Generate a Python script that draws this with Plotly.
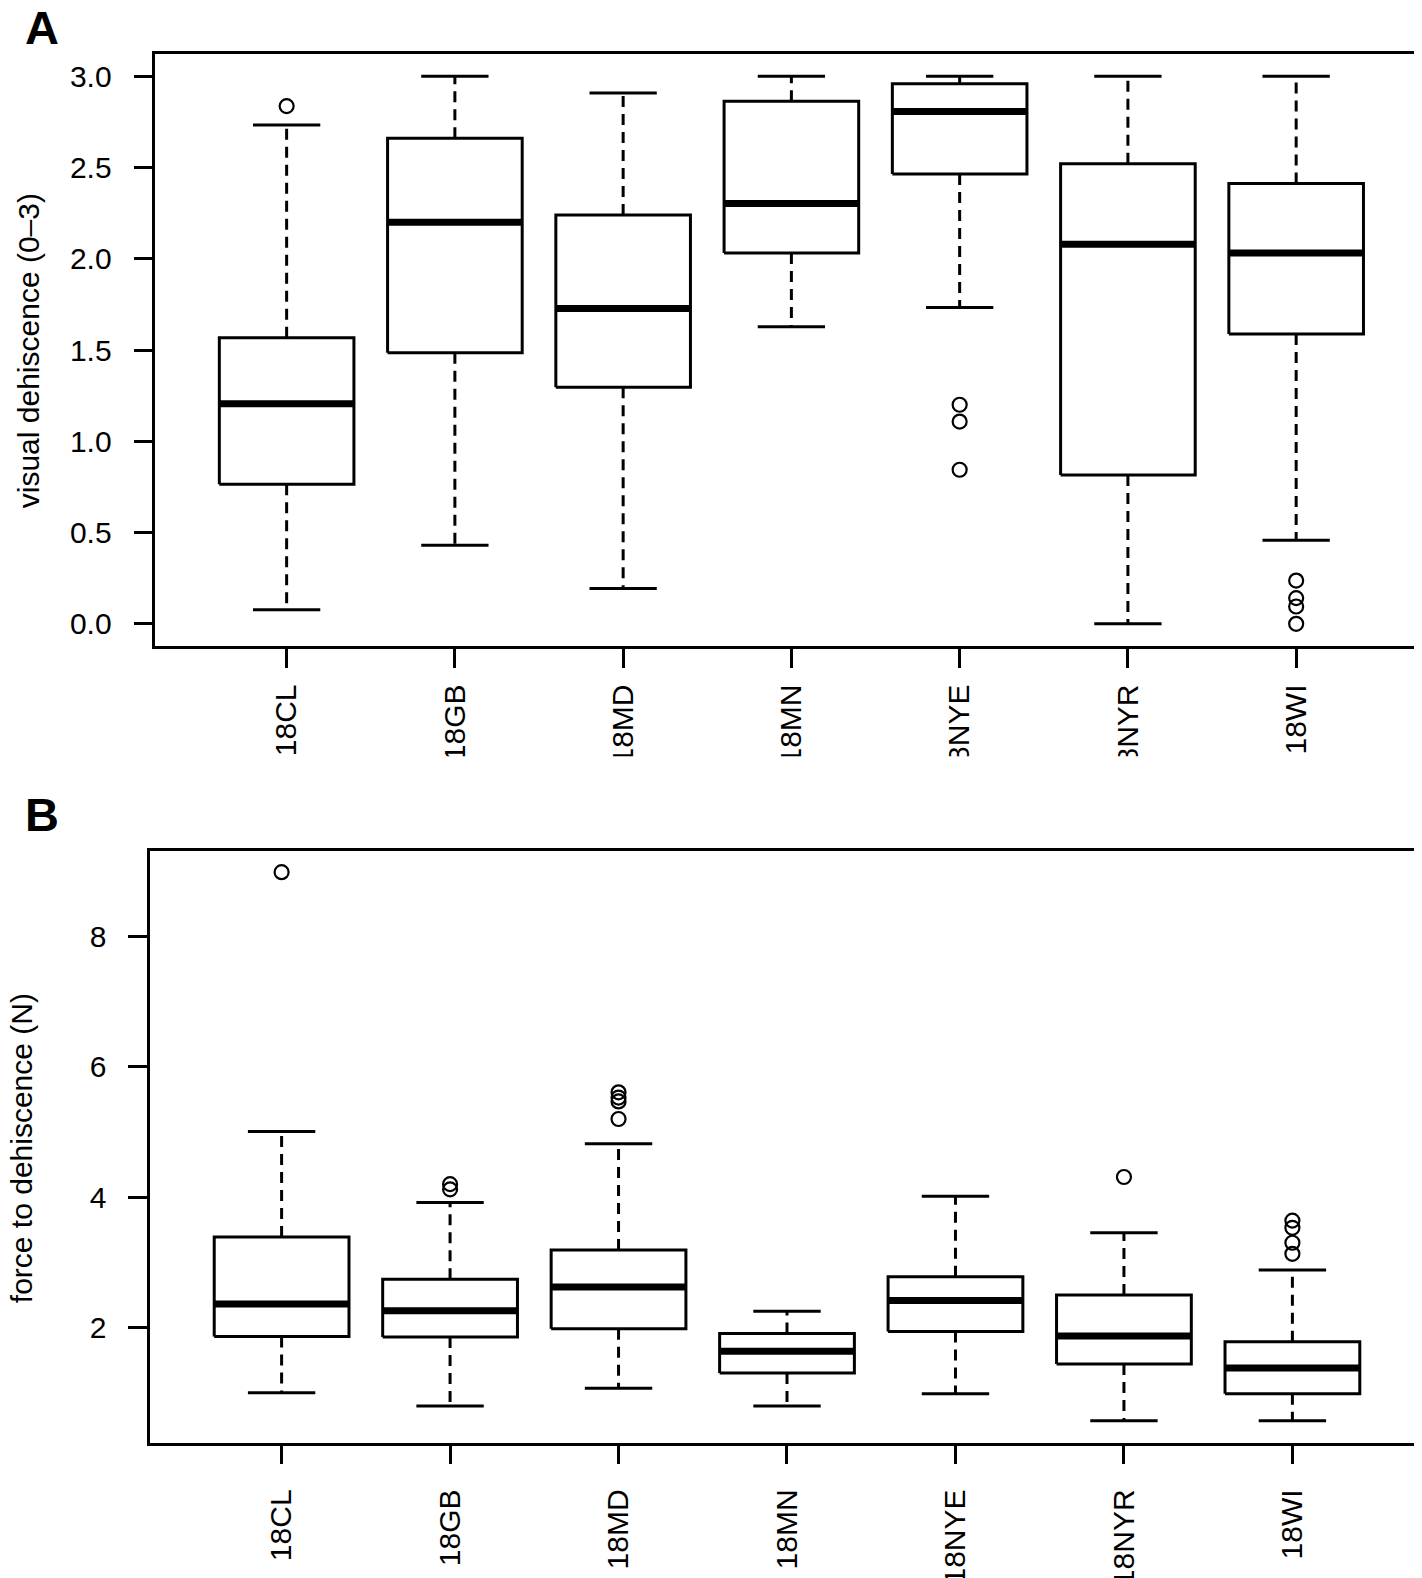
import plotly.graph_objects as go

groups = ["18CL", "18GB", "18MD", "18MN", "18NYE", "18NYR", "18WI"]

# panel A: visual dehiscence (0-3)
a_low = [0.077, 0.43, 0.193, 1.628, 1.733, 0.0, 0.458]
a_q1 = [0.765, 1.485, 1.296, 2.032, 2.464, 0.815, 1.588]
a_med = [1.206, 2.20, 1.728, 2.303, 2.807, 2.079, 2.032]
a_q3 = [1.567, 2.66, 2.24, 2.863, 2.958, 2.52, 2.412]
a_high = [2.733, 3.0, 2.908, 3.0, 3.0, 3.0, 3.0]
a_out = [[2.836], [], [], [], [1.20, 1.108, 0.844], [], [0.237, 0.141, 0.095, 0.0]]

# panel B: force to dehiscence (N)
b_low = [0.996, 0.794, 1.066, 0.794, 0.98, 0.568, 0.568]
b_q1 = [1.86, 1.852, 1.98, 1.30, 1.938, 1.44, 0.98]
b_med = [2.358, 2.257, 2.62, 1.634, 2.412, 1.868, 1.377]
b_q3 = [3.39, 2.74, 3.19, 1.907, 2.778, 2.498, 1.78]
b_high = [5.01, 3.92, 4.82, 2.25, 4.016, 3.455, 2.88]
b_out = [[8.99], [4.20, 4.12], [5.61, 5.53, 5.47, 5.20], [], [], [4.31], [3.64, 3.53, 3.30, 3.13]]

W, H = 1422, 1578
FONT = "Liberation Sans, Arial, Helvetica, sans-serif"
half_box = 0.4
half_cap = 0.2

fig = go.Figure()


def add_panel(low, q1, med, q3, high, outs, xa, ya):
    pos = list(range(1, len(groups) + 1))
    wx, wy, bx, by, cx, cy, mx, my, ox, oy = [], [], [], [], [], [], [], [], [], []
    for i, p in enumerate(pos):
        wx += [p, p, None, p, p, None]
        wy += [q3[i], high[i], None, q1[i], low[i], None]
        bx += [p - half_box, p + half_box, p + half_box, p - half_box, p - half_box, None]
        by += [q1[i], q1[i], q3[i], q3[i], q1[i], None]
        cx += [p - half_cap, p + half_cap, None, p - half_cap, p + half_cap, None]
        cy += [high[i], high[i], None, low[i], low[i], None]
        mx += [p - half_box, p + half_box, None]
        my += [med[i], med[i], None]
        for v in outs[i]:
            ox.append(p)
            oy.append(v)
    common = dict(xaxis=xa, yaxis=ya, showlegend=False, hoverinfo="skip")
    fig.add_trace(go.Scatter(x=wx, y=wy, mode="lines",
                             line=dict(color="black", width=3, dash="11px,7px"), **common))
    fig.add_trace(go.Scatter(x=bx, y=by, mode="lines",
                             line=dict(color="black", width=3), **common))
    fig.add_trace(go.Scatter(x=cx, y=cy, mode="lines",
                             line=dict(color="black", width=3), **common))
    fig.add_trace(go.Scatter(x=mx, y=my, mode="lines",
                             line=dict(color="black", width=7), **common))
    fig.add_trace(go.Scatter(x=ox, y=oy, mode="markers",
                             marker=dict(symbol="circle-open", size=14, color="black",
                                         line=dict(width=2.2)), **common))


add_panel(a_low, a_q1, a_med, a_q3, a_high, a_out, "x", "y")
add_panel(b_low, b_q1, b_med, b_q3, b_high, b_out, "x2", "y2")

ax_style = dict(showline=True, mirror=True, linecolor="black", linewidth=2.5,
                ticks="outside", ticklen=19, tickwidth=2.5, tickcolor="black",
                showgrid=False, zeroline=False,
                tickfont=dict(family=FONT, size=30, color="black"))

xticks = dict(tickmode="array", tickvals=list(range(1, len(groups) + 1)),
              ticktext=groups, tickangle=-90, range=[0.22, 7.78])

fig.update_layout(
    width=W, height=H,
    margin=dict(l=0, r=0, t=0, b=0),
    paper_bgcolor="white", plot_bgcolor="white",
    font=dict(family=FONT, color="black"),
    xaxis=dict(domain=[147.6 / W, 1421.4 / W], anchor="y", ticklabelstandoff=5,
               **xticks, **ax_style),
    yaxis=dict(domain=[1 - 641 / H, 1 - 46.5 / H], anchor="x", range=[-0.12, 3.12],
               tickmode="array", tickvals=[0, 0.5, 1, 1.5, 2, 2.5, 3],
               ticktext=["0.0", "0.5", "1.0", "1.5", "2.0", "2.5", "3.0"],
               ticklabelstandoff=16, **ax_style),
    xaxis2=dict(domain=[142.4 / W, 1417.8 / W], anchor="y2", ticklabelstandoff=13,
                **xticks, **ax_style),
    yaxis2=dict(domain=[1 - 1442 / H, 1 - 847 / H], anchor="x2", range=[0.23, 9.32],
                tickmode="array", tickvals=[2, 4, 6, 8],
                ticklabelstandoff=16, **ax_style),
)

# white band: the category labels of panel A are cut off in the original figure
fig.add_shape(type="rect", xref="paper", yref="paper", x0=0, x1=1,
              y0=1 - 793 / H, y1=1 - 752 / H, fillcolor="white", line_width=0,
              layer="above")

fig.add_annotation(text="visual dehiscence (0\u20133)", xref="paper", yref="paper",
                   x=20 / W, y=1 - 344 / H, textangle=-90, showarrow=False,
                   xanchor="center", yanchor="middle",
                   font=dict(family=FONT, size=30, color="black"))
fig.add_annotation(text="force to dehiscence (N)", xref="paper", yref="paper",
                   x=13 / W, y=1 - 1146 / H, textangle=-90, showarrow=False,
                   xanchor="center", yanchor="middle",
                   font=dict(family=FONT, size=30, color="black"))
fig.add_annotation(text="<b>A</b>", xref="paper", yref="paper",
                   x=15 / W, y=1 - 20 / H, showarrow=False,
                   xanchor="left", yanchor="middle",
                   font=dict(family=FONT, size=47, color="black"))
fig.add_annotation(text="<b>B</b>", xref="paper", yref="paper",
                   x=15 / W, y=1 - 811 / H, showarrow=False,
                   xanchor="left", yanchor="middle",
                   font=dict(family=FONT, size=47, color="black"))

fig.write_html("out.html")
